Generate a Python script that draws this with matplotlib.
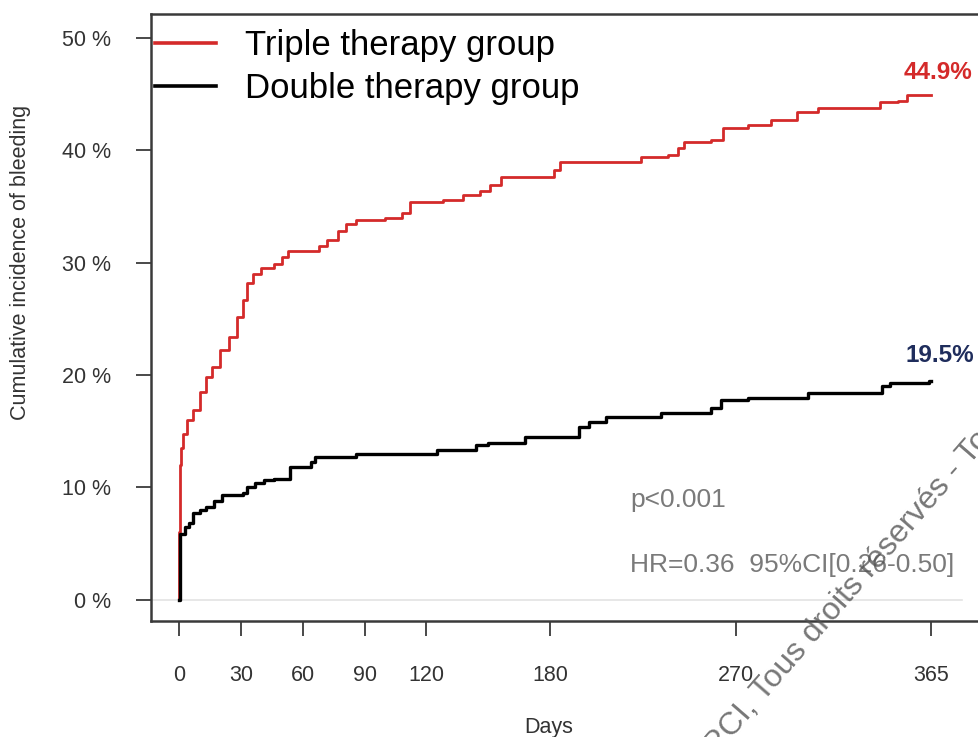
import matplotlib
matplotlib.use("Agg")
import matplotlib.pyplot as plt

plt.rcParams['font.family'] = ['Liberation Sans', 'DejaVu Sans']

# ---- data ----
triple_days = [0, 0.2, 0.5, 1, 2, 4, 7, 10, 13, 16, 20, 24, 28, 31, 33, 36, 40, 46, 50, 53,
               68, 72, 77, 81, 86, 100, 108, 112, 128, 138, 146, 151, 156, 182, 185, 224,
               237, 242, 245, 258, 264, 276, 287, 300, 310, 340, 349, 353, 365]
triple_pct = [0, 6, 12, 13.5, 14.8, 16, 16.9, 18.5, 19.8, 20.7, 22.2, 23.4, 25.2, 26.7, 28.2,
              29.0, 29.5, 29.9, 30.5, 31.0, 31.5, 32.0, 32.8, 33.4, 33.8, 34.0, 34.4, 35.4,
              35.6, 36.0, 36.4, 36.9, 37.6, 38.2, 38.9, 39.4, 39.6, 40.2, 40.7, 40.9, 42.0,
              42.2, 42.7, 43.4, 43.7, 44.3, 44.4, 44.9, 44.9]

double_days = [0, 0.5, 3, 5, 7, 10, 13, 17, 21, 31, 33, 37, 41, 46, 54, 64, 66, 86, 125, 144,
               150, 168, 194, 199, 207, 234, 258, 263, 276, 305, 341, 345, 364, 365]
double_pct = [0, 5.9, 6.5, 6.8, 7.7, 8.0, 8.3, 8.8, 9.3, 9.5, 10.0, 10.4, 10.7, 10.8, 11.8,
              12.3, 12.7, 13.0, 13.3, 13.8, 14.0, 14.5, 15.4, 15.8, 16.3, 16.6, 17.1, 17.8,
              18.0, 18.4, 19.0, 19.3, 19.5, 19.5]

x_ticks = [0, 30, 60, 90, 120, 180, 270, 365]
y_ticks = [0, 10, 20, 30, 40, 50]
y_ticklabels = ["0 %", "10 %", "20 %", "30 %", "40 %", "50 %"]
series_names = ["Triple therapy group", "Double therapy group"]
end_labels = ["44.9%", "19.5%"]

RED = "#d42a2a"
NAVY = "#1f2d5c"
W, H = 979, 737
AX_L, AX_R, AX_T, AX_B = 151, 985, 14, 621

fig = plt.figure(figsize=(W / 100, H / 100), dpi=100)
ax = fig.add_axes([AX_L / W, 1 - AX_B / H, (AX_R - AX_L) / W, (AX_B - AX_T) / H])

# light zero reference line
ax.plot([-14, 380], [0, 0], color="#e3e3e3", lw=1.2, zorder=1)

ax.step(triple_days, triple_pct, where="post", color=RED, lw=2.0, zorder=3,
        label=series_names[0])
ax.step(double_days, double_pct, where="post", color="black", lw=2.4, zorder=4,
        label=series_names[1])

ax.set_xlim(-13.6, 391)
ax.set_ylim(-1.87, 52.1)

ax.set_xticks(x_ticks)
ax.set_xticklabels([str(t) for t in x_ticks])
ax.set_yticks(y_ticks)
ax.set_yticklabels(y_ticklabels)

for s in ax.spines.values():
    s.set_color("#3a3a3a")
    s.set_linewidth(1.8)

ax.tick_params(axis="both", direction="out", length=10.5, width=1.3, color="#3a3a3a",
               labelsize=15.5, labelcolor="#333333")
ax.tick_params(axis="x", pad=21)
ax.tick_params(axis="y", pad=18)

ax.set_xlabel("Days", fontsize=15.5, color="#333333")
ax.xaxis.set_label_coords((549 - AX_L) / (AX_R - AX_L), -(728 - AX_B) / (AX_B - AX_T))
ax.xaxis.label.set_va("center")
ax.set_ylabel("Cumulative incidence of bleeding", fontsize=15.5, color="#333333")
ax.yaxis.set_label_coords(-(AX_L - 20) / (AX_R - AX_L), (AX_B - 262) / (AX_B - AX_T))
ax.yaxis.label.set_va("center")

leg = ax.legend(loc="upper left", bbox_to_anchor=(155 / W, 1 - 29 / H),
                bbox_transform=fig.transFigure, frameon=False, borderpad=0,
                fontsize=25, handlelength=1.75, handletextpad=0.85, labelspacing=0.29,
                borderaxespad=0.0)
for line in leg.get_lines():
    line.set_linewidth(2.6)

ax.text(triple_days[-1] + 3, triple_pct[-1] + 2.0, end_labels[0], color=RED,
        fontsize=17.5, fontweight="bold", ha="center", va="center")
ax.text(double_days[-1] + 4, double_pct[-1] + 2.2, end_labels[1], color=NAVY,
        fontsize=17.5, fontweight="bold", ha="center", va="center")

ax.text(219, 8.9, "p<0.001", color="#7a7a7a", fontsize=19, ha="left", va="center")
ax.text(219, 3.1, "HR=0.36  95%CI[0.26-0.50]", color="#7a7a7a", fontsize=19,
        ha="left", va="center")

# diagonal watermark (clipped by the figure edge)
fig.text(700 / W, 1 - 775 / H, "GRCI, Tous droits réservés - Tous droits réservés",
         rotation=49, color="#555555", alpha=0.8, fontsize=23, ha="left", va="baseline",
         rotation_mode="anchor")

fig.savefig("out.png", dpi=100)
